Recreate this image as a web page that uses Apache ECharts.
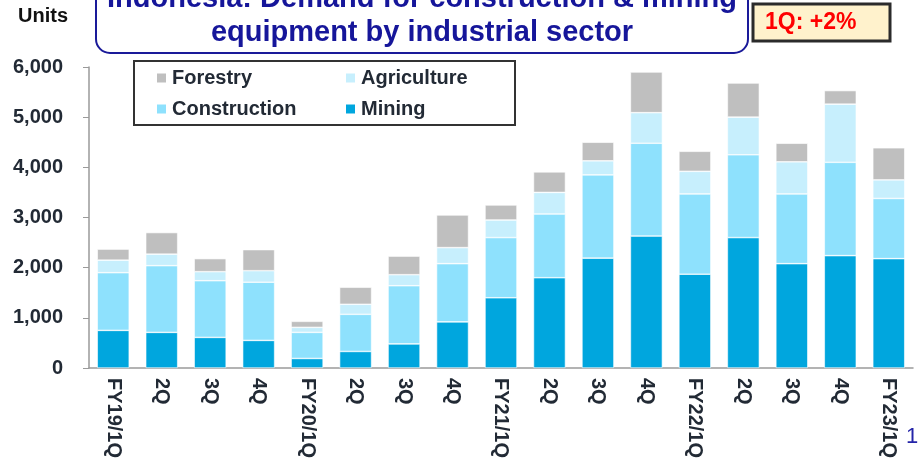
<!DOCTYPE html>
<html>
<head>
<meta charset="utf-8">
<script src="https://cdn.jsdelivr.net/npm/echarts@6/dist/echarts.min.js"></script>
<style>
  html, body { margin: 0; padding: 0; background: #fff; }
  #chart { width: 921px; height: 459px; }
</style>
</head>
<body>
<div id="chart"></div>
<script>
// quarters
const categories = ['FY19/1Q', '2Q', '3Q', '4Q', 'FY20/1Q', '2Q', '3Q', '4Q',
  'FY21/1Q', '2Q', '3Q', '4Q', 'FY22/1Q', '2Q', '3Q', '4Q', 'FY23/1Q']

// units per sector
const mining       = [750, 710, 610, 550, 190, 330, 480, 920, 1400, 1800, 2190, 2630, 1870, 2600, 2080, 2240, 2180]
const construction = [1150, 1330, 1130, 1160, 520, 740, 1160, 1160, 1200, 1270, 1660, 1850, 1600, 1650, 1390, 1860, 1200]
const agriculture  = [250, 230, 180, 230, 100, 200, 220, 320, 350, 430, 280, 610, 450, 750, 640, 1160, 370]
const forestry     = [220, 430, 260, 420, 120, 340, 370, 650, 300, 410, 370, 810, 400, 680, 370, 270, 640]

const yTicks = [0, 1000, 2000, 3000, 4000, 5000, 6000]

const textColor = '#222a35'
const font = 'Liberation Sans, Arial, sans-serif'

const chart = echarts.init(document.getElementById('chart'))

function bar(name, data, color) {
  return {
    name: name,
    type: 'bar',
    stack: 'total',
    barWidth: '66%',
    data: data,
    itemStyle: { color: color, borderColor: '#fff', borderWidth: 0.6 }
  }
}

const legendText = { color: textColor, fontSize: 20, fontWeight: 'bold', fontFamily: font }

const option = {
  animation: false,
  // labels run off the bottom edge like in the slide, so no auto shrinking
  grid: { left: 89, right: 8, top: 67, bottom: 91, outerBoundsMode: 'none' },
  legend: [
    {
      data: ['Forestry', 'Construction'],
      orient: 'vertical',
      left: 150, top: 63,
      itemWidth: 11, itemHeight: 11, itemGap: 11,
      icon: 'rect',
      textStyle: legendText
    },
    {
      data: ['Agriculture', 'Mining'],
      orient: 'vertical',
      left: 339, top: 63,
      itemWidth: 11, itemHeight: 11, itemGap: 11,
      icon: 'rect',
      textStyle: legendText
    }
  ],
  xAxis: {
    type: 'category',
    data: categories,
    axisLine: { lineStyle: { color: '#9a9a9a', width: 1.5 } },
    axisTick: { show: false },
    axisLabel: {
      interval: 0,
      rotate: -90,
      margin: 10,
      color: textColor,
      fontSize: 20,
      fontWeight: 'bold',
      fontFamily: font
    }
  },
  yAxis: {
    type: 'value',
    min: yTicks[0],
    max: yTicks[yTicks.length - 1],
    interval: 1000,
    splitLine: { show: false },
    axisLine: { show: true, lineStyle: { color: '#9a9a9a', width: 1.5 } },
    axisTick: { show: true, length: 6, lineStyle: { color: '#9a9a9a' } },
    axisLabel: {
      margin: 26,
      color: textColor,
      fontSize: 20,
      fontWeight: 'bold',
      fontFamily: font,
      formatter: v => v.toLocaleString('en-US')
    }
  },
  series: [
    bar('Mining', mining, '#00a6de'),
    bar('Construction', construction, '#8ee1fd'),
    bar('Agriculture', agriculture, '#c7effd'),
    bar('Forestry', forestry, '#bfbfbf')
  ],
  graphic: [
    // title box
    {
      type: 'rect', z: 10,
      shape: { x: 96, y: -20, width: 652, height: 73, r: 14 },
      style: { fill: '#fff', stroke: '#1a1a99', lineWidth: 2 }
    },
    {
      type: 'text', z: 11, x: 422, y: -1,
      style: {
        text: 'Indonesia: Demand for construction & mining',
        fill: '#16169a', font: 'bold 29px ' + font,
        align: 'center', verticalAlign: 'middle'
      }
    },
    {
      type: 'text', z: 11, x: 422, y: 33,
      style: {
        text: 'equipment by industrial sector',
        fill: '#16169a', font: 'bold 29px ' + font,
        align: 'center', verticalAlign: 'middle'
      }
    },
    // growth box
    {
      type: 'rect', z: 10,
      shape: { x: 753, y: 4, width: 137, height: 37 },
      style: { fill: '#fff2cc', stroke: '#2b2b2b', lineWidth: 3 }
    },
    {
      type: 'text', z: 11, x: 765, y: 23,
      style: { text: '1Q: +2%', fill: '#ff0000', font: 'bold 23px ' + font, verticalAlign: 'middle' }
    },
    // legend frame
    {
      type: 'rect', z: 5,
      shape: { x: 134, y: 61, width: 381, height: 64 },
      style: { fill: 'none', stroke: '#333', lineWidth: 2 }
    },
    {
      type: 'text', x: 18, y: 16,
      style: { text: 'Units', fill: '#111', font: 'bold 20px ' + font, verticalAlign: 'middle' }
    },
    {
      type: 'text', x: 906, y: 437,
      style: { text: '1', fill: '#2424a8', font: '22px ' + font, verticalAlign: 'middle' }
    }
  ]
}

chart.setOption(option)
</script>
</body>
</html>
